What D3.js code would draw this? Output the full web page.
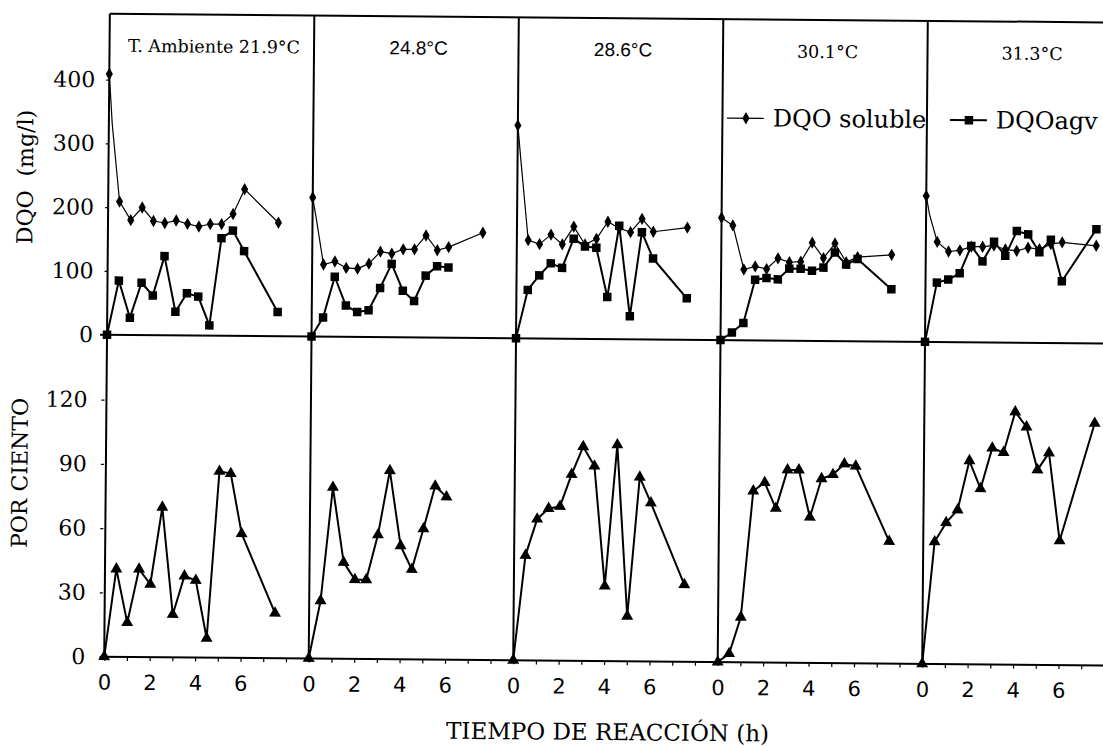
<!DOCTYPE html>
<html>
<head>
<meta charset="utf-8">
<script src="https://cdn.jsdelivr.net/npm/d3@7"></script>
<style>
  html, body { margin: 0; padding: 0; background: #fff; }
  svg { display: block; }
</style>
</head>
<body>
<script>
// one panel per reactor temperature
const panelTitles = ["T. Ambiente 21.9°C", "24.8°C", "28.6°C", "30.1°C", "31.3°C"];

// DQO soluble (mg/l), it has an extra early reading just after t = 0
const hoursSol = [0, 0.15, 0.5, 1, 1.5, 2, 2.5, 3, 3.5, 4, 4.5, 5, 5.5, 6, 7.5];
const dqoSoluble = [
  [409, 330, 209, 180, 200, 179, 176, 180, 175, 171, 175, 175, 191, 230, 178],
  [218, 188, 113, 118, 108, 107, 115, 134, 131, 138, 138, 160, 137, 142, 165],
  [334, 278, 154, 148, 163, 148, 176, 148, 157, 184, 174, 168, 189, 169, 176],
  [192, null, 180, 111, 116, 112, 129, 123, 124, 154, 130, 153, 124, 132, 136],
  [229, 200, 157, 142, 144, 150, 150, 152, 146, 144, 149, 147, 155, 158, 153]
];

const hours = [0, 0.5, 1, 1.5, 2, 2.5, 3, 3.5, 4, 4.5, 5, 5.5, 6, 7.5];

// DQO agv (mg/l)
const dqoAgv = [
  [0, 85, 27, 82, 62, 124, 37, 66, 61, 16, 153, 165, 133, 38],
  [0, 30, 94, 49, 39, 42, 77, 115, 73, 57, 97, 112, 110, null],
  [0, 76, 99, 118, 111, 157, 145, 143, 66, 178, 36, 168, 127, 65],
  [0, 12, 27, 95, 98, 96, 113, 113, 110, 115, 139, 120, 129, 82],
  [0, 93, 98, 108, 151, 127, 158, 136, 175, 170, 142, 162, 97, 179]
];

// por ciento
const porCiento = [
  [0, 41, 16, 41, 34, 70, 20, 38, 36, 9, 87, 86, 58, 21],
  [0, 27, 80, 45, 37, 37, 58, 88, 53, 42, 61, 81, 76, null],
  [0, 49, 66, 71, 72, 87, 100, 91, 35, 101, 21, 86, 74, 36],
  [0, 4, 21, 80, 84, 72, 90, 90, 68, 86, 88, 93, 92, 57],
  [0, 57, 66, 72, 95, 82, 101, 99, 118, 111, 91, 99, 58, 113]
];

const dqoTicks = [0, 100, 200, 300, 400];
const pctTicks = [0, 30, 60, 90, 120];
const hourTicks = [0, 1, 2, 3, 4, 5, 6, 7, 8];
const hourLabels = [0, 2, 4, 6];
const legendLabels = ["DQO soluble", "DQOagv"];

const width = 1103, height = 746;
const serif = "'DejaVu Serif', serif";
const sans = "'DejaVu Sans', sans-serif";

const svg = d3.select("body").append("svg")
    .attr("width", width)
    .attr("height", height);

// the scanned figure is tilted by about half a degree
const g = svg.append("g").attr("transform", "rotate(0.5, 600, 340)");

let panelW = 204.5;
let x0 = 107;
let frameTop = 18;

let xPanel = d3.scaleLinear().domain([0, panelTitles.length]).range([x0, x0 + panelTitles.length * panelW]);
let xHour = d3.scaleLinear().domain([0, 9]).range([0, panelW]);
let yDqo = d3.scaleLinear().domain([0, 400]).range([339, 84]);
let yPct = d3.scaleLinear().domain([0, 120]).range([661, 404]);

// frame
let frame = g.append("g").attr("stroke", "#000").attr("stroke-width", 2).attr("fill", "none");
frame.append("line").attr("x1", x0).attr("x2", width + 40).attr("y1", frameTop).attr("y2", frameTop);
frame.append("line").attr("x1", x0 - 7).attr("x2", width + 40).attr("y1", yDqo(0)).attr("y2", yDqo(0));
frame.append("line").attr("x1", x0 - 4).attr("x2", width + 40).attr("y1", yPct(0)).attr("y2", yPct(0));
panelTitles.forEach((t, i) => {
    frame.append("line")
        .attr("x1", xPanel(i)).attr("x2", xPanel(i))
        .attr("y1", frameTop).attr("y2", yPct(0));
});

// left axes
function styleAxis(sel, font, size) {
    sel.select(".domain").remove();
    sel.selectAll(".tick line").attr("stroke", "#000").attr("stroke-width", 1.2);
    sel.selectAll(".tick text").attr("font-family", font).attr("font-size", size).attr("fill", "#000");
}

g.append("g")
    .attr("transform", `translate(${x0},0)`)
    .call(d3.axisLeft(yDqo).tickValues(dqoTicks).tickSize(3).tickPadding(11))
    .call(styleAxis, serif, 22);

g.append("g")
    .attr("transform", `translate(${x0 - 2},0)`)
    .call(d3.axisLeft(yPct).tickValues(pctTicks).tickSize(3).tickPadding(14))
    .call(styleAxis, serif, 22);

// bottom axes, one per panel
panelTitles.forEach((t, i) => {
    g.append("g")
        .attr("transform", `translate(${xPanel(i)},${yPct(0)})`)
        .call(d3.axisBottom(xHour).tickValues(hourTicks).tickSize(4).tickPadding(14)
            .tickFormat(d => hourLabels.includes(d) ? d : ""))
        .call(styleAxis, sans, 21);
});

// axis titles
g.append("text")
    .attr("transform", "translate(24,182) rotate(-90)")
    .attr("text-anchor", "middle").attr("dominant-baseline", "central")
    .attr("font-family", serif).attr("font-size", 22)
    .attr("xml:space", "preserve")
    .text("DQO  (mg/l)");

g.append("text")
    .attr("transform", "translate(21,478) rotate(-90)")
    .attr("text-anchor", "middle").attr("dominant-baseline", "central")
    .attr("font-family", serif).attr("font-size", 22)
    .text("POR CIENTO");

g.append("text")
    .attr("x", 611).attr("y", 740)
    .attr("text-anchor", "middle")
    .attr("font-family", serif).attr("font-size", 23)
    .text("TIEMPO DE REACCIÓN (h)");

// panel titles
panelTitles.forEach((t, i) => {
    let isSans = (i === 1 || i === 2);
    g.append("text")
        .attr("x", xPanel(i) + xHour(4.6)).attr("y", 56)
        .attr("text-anchor", "middle")
        .attr("font-family", isSans ? "'Liberation Sans', sans-serif" : serif)
        .attr("font-size", isSans ? 19 : 17.5)
        .text(t);
});

let diamond = d3.symbol().type(d3.symbolDiamond).size(44);
let square = d3.symbol().type(d3.symbolSquare).size(72);
let triangle = d3.symbol().type(d3.symbolTriangle).size(62);

function drawSeries(times, values, i, yScale, sym, lineW) {
    let pts = times.map((h, k) => [h, values[k]]).filter(d => d[1] != null);
    let ox = xPanel(i);
    let line = d3.line()
        .x(d => ox + xHour(d[0]))
        .y(d => yScale(d[1]));
    g.append("path")
        .attr("d", line(pts))
        .attr("fill", "none")
        .attr("stroke", "#000")
        .attr("stroke-width", lineW)
        .attr("stroke-linejoin", "round");
    // the early reading sits on the axis line and shows no marker
    g.append("g").selectAll("path")
        .data(pts.filter(d => d[0] % 0.5 === 0))
        .join("path")
        .attr("transform", d => `translate(${ox + xHour(d[0])},${yScale(d[1])})`)
        .attr("d", sym)
        .attr("fill", "#000");
}

panelTitles.forEach((t, i) => {
    drawSeries(hoursSol, dqoSoluble[i], i, yDqo, diamond, 1.2);
    drawSeries(hours, dqoAgv[i], i, yDqo, square, 2);
    drawSeries(hours, porCiento[i], i, yPct, triangle, 2);
});

// legend
let legend = g.append("g").attr("font-family", serif).attr("font-size", 24);
let legendSyms = [diamond, square];
let legendX = [725, 948];
legendLabels.forEach((lab, k) => {
    let lx = legendX[k], ly = 117;
    legend.append("line")
        .attr("x1", lx).attr("x2", lx + 37).attr("y1", ly).attr("y2", ly)
        .attr("stroke", "#000").attr("stroke-width", k === 0 ? 1.2 : 2);
    legend.append("path")
        .attr("transform", `translate(${lx + 19},${ly})`)
        .attr("d", legendSyms[k])
        .attr("fill", "#000");
    legend.append("text")
        .attr("x", lx + 46).attr("y", ly + 8)
        .text(lab);
});
</script>
</body>
</html>
